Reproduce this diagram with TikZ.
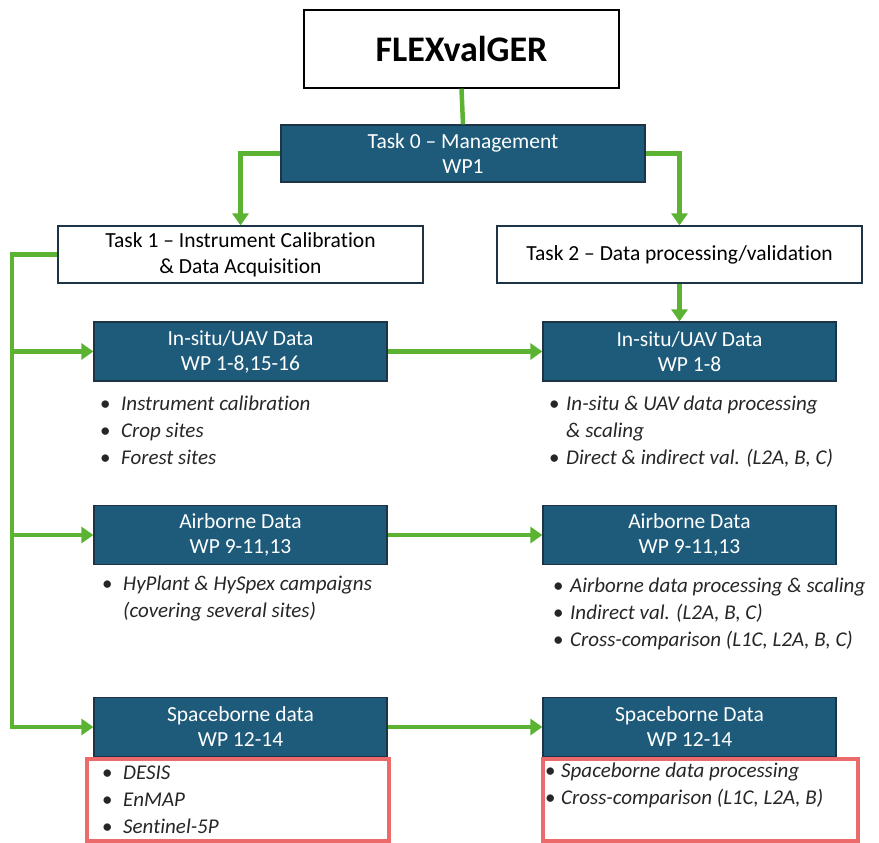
\documentclass[tikz,border=0pt]{standalone}
\usepackage{fontspec}
\setmainfont{Carlito}[Ligatures=NoCommon]
\usetikzlibrary{arrows.meta}
\definecolor{wpblue}{RGB}{30,91,122}
\definecolor{wpedge}{RGB}{28,52,70}
\definecolor{flowgreen}{RGB}{92,178,50}
\definecolor{markred}{RGB}{236,106,106}
\newcommand{\bul}[2][21pt]{\makebox[#1][l]{\textbullet}\textit{#2}}

\begin{document}
\begin{tikzpicture}[x=1pt, y=-1pt,
	wp/.style={draw=wpedge, line width=1.2pt, fill=wpblue, text=white, align=center, minimum width=293pt, minimum height=59pt, font=\fontsize{21.5}{25}\selectfont},
	task/.style={draw=wpedge, line width=1.2pt, fill=white, align=center, minimum width=365pt, minimum height=57pt, font=\fontsize{21.5}{26}\selectfont},
	flow/.style={draw=flowgreen, line width=4.5pt},
	items/.style={anchor=north west, inner sep=0pt, align=left, font=\fontsize{21}{27}\selectfont, text=black!85},
	>={Triangle[length=12pt,width=16pt]}]
	\useasboundingbox (0,0) rectangle (879,843);
	\node[draw, line width=1.2pt, minimum width=315pt, minimum height=78pt, font=\fontsize{36}{40}\selectfont\bfseries] (flex) at (461.5,49) {FLEXvalGER};
	\node[wp, minimum width=364pt, minimum height=57pt] (task0) at (463,153.5) {Task 0 -- Management\\WP1};
	\node[task] (task1) at (240.5,254.5) {Task 1 -- Instrument Calibration\\\& Data Acquisition};
	\node[task] (task2) at (679.5,254.5) {Task 2 -- Data processing/validation};

	\node[wp] (insL) at (240.5,351.5) {In-situ/UAV Data\\WP 1-8,15-16};
	\node[wp] (insR) at (689.5,351.5) {In-situ/UAV Data\\WP 1-8};
	\node[wp] (airL) at (240.5,535) {Airborne Data\\WP 9-11,13};
	\node[wp] (airR) at (689.5,535) {Airborne Data\\WP 9-11,13};
	\node[wp] (spL) at (240.5,727) {Spaceborne data\\WP 12-14};
	\node[wp] (spR) at (689.5,727) {Spaceborne Data\\WP 12-14};

	\node[items] (insLtxt) at (100,396) {\bul{Instrument calibration}\\\bul{Crop sites}\\\bul{Forest sites}};
	\node[items] (insRtxt) at (549,396) {\bul[17pt]{In-situ \& UAV data processing}\\\hspace*{17pt}\textit{\& scaling}\\\bul[17pt]{Direct \& indirect val. (L2A, B, C)}};
	\node[items] (airLtxt) at (102,576) {\bul{HyPlant \& HySpex campaigns}\\\hspace*{21pt}\textit{(covering several sites)}};
	\node[items] (airRtxt) at (553,578) {\bul[17pt]{Airborne data processing \& scaling}\\\bul[17pt]{Indirect val. (L2A, B, C)}\\\bul[17pt]{Cross-comparison (L1C, L2A, B, C)}};
	\node[items] (spLtxt) at (102,766) {\bul{DESIS}\\\bul{EnMAP}\\\bul{Sentinel-5P}};
	\node[items] (spRtxt) at (545,763) {\bul[16pt]{Spaceborne data processing}\\\bul[16pt]{Cross-comparison (L1C, L2A, B)}};

	\draw[markred, line width=4pt] (87,759) rectangle (389,841);
	\draw[markred, line width=4pt] (543,759) rectangle (858,841);

	\coordinate (rail) at (12,727);
	\draw[flow] (flex.south) -- (task0.north);
	\draw[flow,->] (task0.west) -| (task1.north);
	\draw[flow,->] (task0.east) -| (task2.north);
	\draw[flow,->] (task2.south) -- (task2.south |- insR.north);
	\draw[flow,->] (task1.west) -| (rail) -- (spL.west);
	\draw[flow,->] (rail |- insL.west) -- (insL.west);
	\draw[flow,->] (rail |- airL.west) -- (airL.west);
	\draw[flow,->] (insL) -- (insR);
	\draw[flow,->] (airL) -- (airR);
	\draw[flow,->] (spL) -- (spR);
\end{tikzpicture}
\end{document}
